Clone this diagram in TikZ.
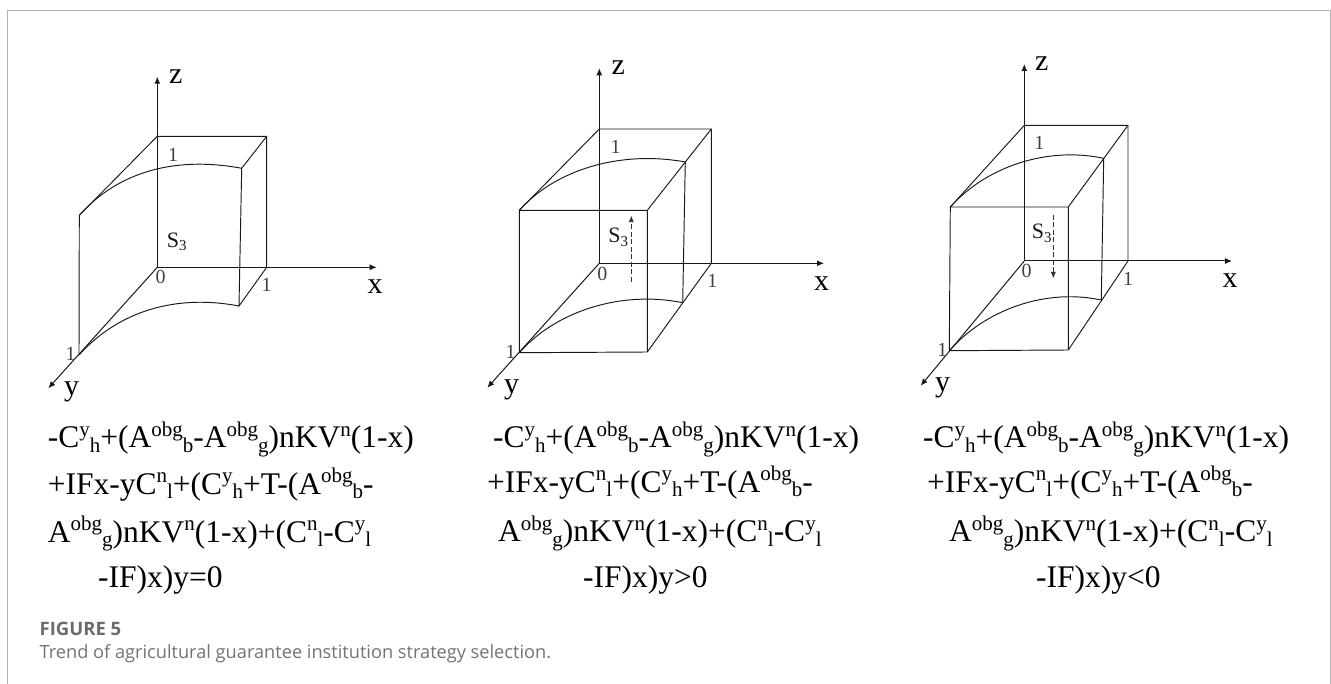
\documentclass[tikz,border=0pt]{standalone}
\usepackage{fontspec}
\setmainfont{Liberation Serif}
\newfontfamily\capfont{Open Sans}
\usetikzlibrary{arrows.meta}
\newcommand{\su}[1]{\raisebox{0.36em}{\fontsize{21}{24}\selectfont #1}}
\newcommand{\sd}[1]{\raisebox{-0.14em}{\fontsize{21}{24}\selectfont #1}}
\newcommand{\sthree}{S\raisebox{-0.14em}{\fontsize{15}{17}\selectfont 3}}
\newcommand{\lineA}{-C\su{y}\sd{h}+(A\su{obg}\sd{b}-A\su{obg}\sd{g})nKV\su{n}(1-x)}
\newcommand{\lineB}{+IFx-yC\su{n}\sd{l}+(C\su{y}\sd{h}+T-(A\su{obg}\sd{b}-}
\newcommand{\lineC}{A\su{obg}\sd{g})nKV\su{n}(1-x)+(C\su{n}\sd{l}-C\su{y}\sd{l}}
\tikzset{
 x=1pt,y=-1pt,
 axis/.style={line width=1pt,draw=black!90,-{Latex[length=7pt,width=6pt]}},
 edge/.style={line width=0.95pt,draw=black!90},
 trend/.style={line width=0.9pt,draw=black!80,dashed,dash pattern=on 5pt off 2.5pt,-{Latex[length=6.5pt,width=5.5pt]}},
 frameline/.style={line width=1pt,draw=black!30},
 axlabel/.style={inner sep=0pt,font=\fontsize{30}{32}\selectfont},
 tick/.style={inner sep=0pt,text=black!75,font=\fontsize{20}{22}\selectfont},
 slabel/.style={inner sep=0pt,text=black!90,font=\fontsize{22}{24}\selectfont},
 formula/.style={inner sep=0pt,anchor=base west,font=\fontsize{31.5}{34}\selectfont},
 caphead/.style={inner sep=0pt,anchor=base west,text=black!58,font=\capfont\fontsize{18.5}{20}\selectfont\bfseries},
 captext/.style={inner sep=0pt,anchor=base west,text=black!55,font=\capfont\fontsize{18.2}{20}\selectfont},
}
\begin{document}
\begin{tikzpicture}
\useasboundingbox (0,0) rectangle (1331,684);
% frame
\coordinate (fa) at (7.5,684); \coordinate (fb) at (7.5,10.5);
\coordinate (fc) at (1330,10.5); \coordinate (fd) at (1330,684);
\draw[frameline] (fa) -- (fb) -- (fc) -- (fd);

% ---------- panel 1
\coordinate (aO) at (157.3,267.3); \coordinate (aZ) at (157.3,76.7);
\coordinate (aX) at (376.7,267.3); \coordinate (aY) at (48.3,388.3);
\coordinate (aT) at (157.3,136.3); \coordinate (aR) at (266.7,136.3);
\coordinate (aQ) at (266.7,267.3); \coordinate (aL) at (79.3,215.3);
\coordinate (aB) at (79,355); \coordinate (aE) at (241.7,168.3);
\coordinate (aF) at (239,306);
\draw[axis] (aO) -- (aZ); \draw[axis] (aO) -- (aX); \draw[axis] (aO) -- (aY);
\draw[edge] (aL) -- (aT) -- (aR) -- (aQ) -- (aF) -- (aE) -- (aR);
\draw[edge] (aL) -- (aB);
\draw[edge] (aL) .. controls (115,175) and (170,155) .. (aE);
\draw[edge] (aB) .. controls (115,315) and (170,293) .. (aF);
\node[axlabel] (az) at (175.7,76.7) {z};
\node[axlabel] (ax) at (375,287) {x};
\node[axlabel] (ay) at (71.7,391.7) {y};
\node[tick] (a1) at (173,155) {1};
\node[tick] (a0) at (160.7,277) {0};
\node[tick] (a2) at (266.7,285) {1};
\node[tick] (a3) at (70.7,354) {1};
\node[slabel] (as) at (176.7,241.7) {\sthree};
\node[formula] (af1) at (47.6,448) {\lineA};
\node[formula] (af2) at (47.6,494) {\lineB};
\node[formula] (af3) at (47.6,542) {\lineC};
\node[formula] (af4) at (98,587) {-IF)x)y=0};

% ---------- panel 2
\coordinate (bO) at (599.3,263.3); \coordinate (bZ) at (599.3,68.3);
\coordinate (bX) at (824,263.3); \coordinate (bY) at (487.3,387.7);
\coordinate (bT) at (599.3,129); \coordinate (bR) at (711.3,129);
\coordinate (bQ) at (711.3,263.3); \coordinate (bL) at (519.3,210.3);
\coordinate (bM) at (647.3,210.3); \coordinate (bB) at (519.3,352.7);
\coordinate (bN) at (647.3,352); \coordinate (bE) at (685.3,162);
\coordinate (bF) at (682.7,302.7); \coordinate (bU) at (631.3,281.7);
\coordinate (bV) at (631.3,215.7);
\draw[axis] (bO) -- (bZ); \draw[axis] (bO) -- (bX); \draw[axis] (bO) -- (bY);
\draw[edge] (bL) -- (bT) -- (bR) -- (bQ) -- (bN) -- (bB) -- (bL) -- (bM) -- (bN);
\draw[edge] (bM) -- (bR); \draw[edge] (bE) -- (bF);
\draw[edge] (bL) .. controls (555,170) and (620,150) .. (bE);
\draw[edge] (bB) .. controls (555,312) and (620,290) .. (bF);
\draw[trend] (bU) -- (bV);
\node[axlabel] (bz) at (618.3,67.3) {z};
\node[axlabel] (bx) at (821.7,283.3) {x};
\node[axlabel] (by) at (511.7,390) {y};
\node[tick] (b1) at (615.7,147.3) {1};
\node[tick] (b0) at (602.3,274) {0};
\node[tick] (b2) at (712.3,280.7) {1};
\node[tick] (b3) at (510.7,352.3) {1};
\node[slabel] (bs) at (618.3,237.3) {\sthree};
\node[formula] (bf1) at (493,448) {\lineA};
\node[formula] (bf2) at (487,492) {\lineB};
\node[formula] (bf3) at (498,541.7) {\lineC};
\node[formula] (bf4) at (583,587) {-IF)x)y>0};

% ---------- panel 3
\coordinate (cO) at (1024.3,261); \coordinate (cZ) at (1024.3,64);
\coordinate (cX) at (1232,261); \coordinate (cY) at (920.7,385.7);
\coordinate (cT) at (1024.3,125.3); \coordinate (cR) at (1128,125.3);
\coordinate (cQ) at (1128,261); \coordinate (cL) at (950.3,207);
\coordinate (cM) at (1068.3,207); \coordinate (cB) at (949.3,350.7);
\coordinate (cN) at (1068.3,350); \coordinate (cE) at (1103.7,158.3);
\coordinate (cF) at (1101.3,300); \coordinate (cU) at (1053.3,215);
\coordinate (cV) at (1053.3,278.3);
\draw[axis] (cO) -- (cZ); \draw[axis] (cO) -- (cX); \draw[axis] (cO) -- (cY);
\draw[edge] (cL) -- (cT) -- (cR) -- (cQ) -- (cN) -- (cB) -- (cL) -- (cM) -- (cN);
\draw[edge] (cM) -- (cR); \draw[edge] (cE) -- (cF);
\draw[edge] (cL) .. controls (985,168) and (1045,146) .. (cE);
\draw[edge] (cB) .. controls (985,310) and (1045,288) .. (cF);
\draw[trend] (cU) -- (cV);
\node[axlabel] (cz) at (1041.7,64) {z};
\node[axlabel] (cx) at (1230,280.7) {x};
\node[axlabel] (cy) at (942.7,388.3) {y};
\node[tick] (c1) at (1039.3,143.3) {1};
\node[tick] (c0) at (1026.7,271) {0};
\node[tick] (c2) at (1128,279) {1};
\node[tick] (c3) at (942.3,350) {1};
\node[slabel] (cs) at (1041.7,233.3) {\sthree};
\node[formula] (cf1) at (923,448) {\lineA};
\node[formula] (cf2) at (927,492) {\lineB};
\node[formula] (cf3) at (949,541.7) {\lineC};
\node[formula] (cf4) at (1036,587) {-IF)x)y<0};

% caption
\node[caphead] (cap1) at (39.5,635) {FIGURE 5};
\node[captext] (cap2) at (39.5,658) {Trend of agricultural guarantee institution strategy selection.};
\end{tikzpicture}
\end{document}
